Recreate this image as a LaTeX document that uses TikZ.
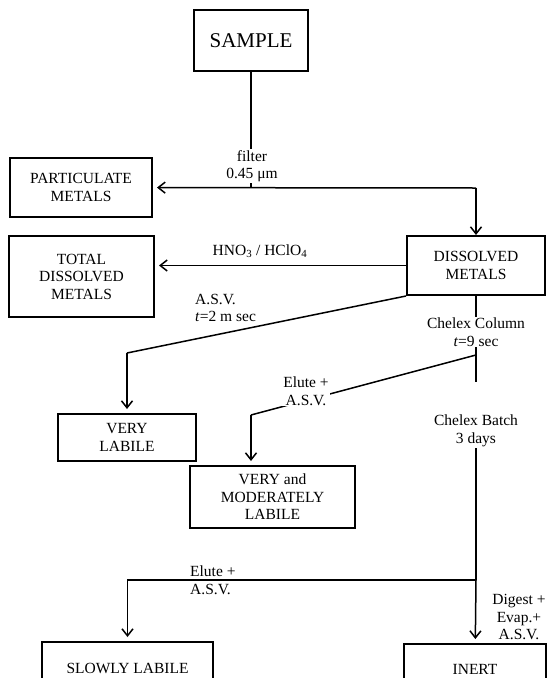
\documentclass[tikz,border=0pt]{standalone}
\usepackage{fontspec}
\setmainfont{Liberation Serif}
\usetikzlibrary{arrows.meta}
\begin{document}
\begin{tikzpicture}[
  x=1pt, y=-1pt,
  box/.style={draw, line width=2pt, align=center, inner sep=0pt, font=\fontsize{15.5}{17.5}\selectfont},
  lbl/.style={align=center, inner sep=1pt, font=\fontsize{15.5}{17.5}\selectfont},
  link/.style={line width=1.5pt},
  arrow/.style={-{Straight Barb[length=7pt,width=11pt]}, line width=1.5pt, shorten >=4pt}
]
\clip (0,0) rectangle (547,678);
\node[box, minimum width=114pt, minimum height=61pt, font=\fontsize{21}{24}\selectfont] (sample) at (251,40.5) {SAMPLE};
\node[box, minimum width=142pt, minimum height=59pt] (part) at (81,187.5) {PARTICULATE\\METALS};
\node[box, minimum width=145pt, minimum height=81pt] (total) at (81.5,276.5) {TOTAL\\DISSOLVED\\METALS};
\node[box, minimum width=138pt, minimum height=59pt] (dis) at (476,265.5) {DISSOLVED\\METALS};
\node[box, minimum width=138pt, minimum height=47pt] (vlab) at (127,437.5) {VERY\\LABILE};
\node[box, minimum width=165pt, minimum height=62pt] (vmod) at (272.5,497) {VERY and\\MODERATELY\\LABILE};
\node[box, minimum width=171pt, minimum height=52pt] (slow) at (127.5,668) {SLOWLY LABILE};
\node[box, minimum width=142pt, minimum height=50pt] (inert) at (475,669) {INERT};
\coordinate (fj) at (476,188);
\coordinate (vlk) at (127,353);
\coordinate (jc) at (476,355);
\coordinate (vmk) at (251,415);
\coordinate (jb) at (476,580);
\node[lbl] (colm) at (476,332) {Chelex Column\\\textit{t}=9 sec};
\node[lbl] (batch) at (476,431) {Chelex Batch\\3 days};
\draw[link] (sample) -- (sample |- fj);
\draw[arrow] (fj) -- (part);
\draw[arrow, shorten >=0pt] (fj) -- (dis);
\draw[arrow] (dis.west) -- (dis.west -| total.east);
\draw[link] (dis.south west) -- (vlk);
\draw[arrow] (vlk) -- (vlab);
\draw[link] (dis) -- (colm);
\draw[link] (colm) -- (jc);
\draw[link, shorten >=32pt] (jc) -- (batch);
\draw[link] (jc) -- (vmk);
\draw[arrow] (vmk) -- (vmk |- vmod.north);
\draw[link] (batch) -- (jb);
\draw[arrow] (jb) -- (inert);
\draw[arrow] (jb) -| (slow);
\node[lbl, fill=white] (filter) at (252,166) {filter\\0.45 μm};
\node[lbl] (acid) at (260,251) {HNO\textsubscript{3} / HClO\textsubscript{4}};
\node[lbl, align=left, anchor=west] (asv) at (194,308) {A.S.V.\\\textit{t}=2 m sec};
\node[lbl, fill=white] (elute) at (306,391) {Elute +\\A.S.V.};
\node[lbl, align=left, anchor=west] (elutelow) at (189,580) {Elute +\\A.S.V.};
\node[lbl] (digest) at (519,617) {Digest +\\Evap.+\\A.S.V.};
\end{tikzpicture}
\end{document}
